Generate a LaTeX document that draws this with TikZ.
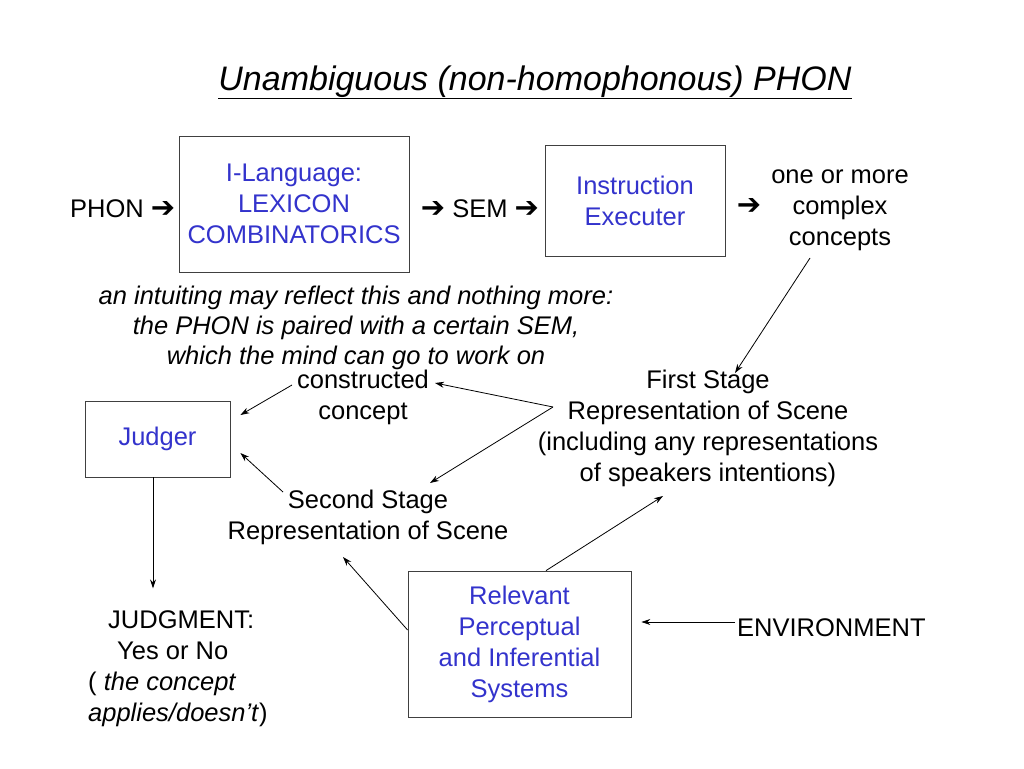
\documentclass[tikz,border=0pt]{standalone}
\usepackage{fontspec}
\setmainfont{Liberation Sans}
\newfontfamily\arrowfont{DejaVu Sans}[BoldFont={DejaVu Sans Bold}]
\usetikzlibrary{arrows.meta}
\definecolor{boxblue}{RGB}{51,51,204}
\newcommand{\thickarrow}{{\fontsize{29}{31}\selectfont\arrowfont\bfseries ➔}}
\tikzset{
  box/.style={draw=black!75, line width=0.8pt, text=boxblue, align=center, inner sep=0pt},
  label text/.style={align=center, inner sep=0pt},
  musing/.style={label text, font=\fontsize{25.5}{30}\selectfont\itshape},
  arr/.style={-{Stealth[length=9pt,width=6pt]}, line width=0.8pt},
}
\begin{document}
\begin{tikzpicture}[x=1pt, y=-1pt, font=\fontsize{25.5}{31}\selectfont]
  \useasboundingbox[fill=white] (0,0) rectangle (1024,768);
  % title
  \node[label text, anchor=base] (title) at (535,90)
    {\fontsize{34}{40}\selectfont\itshape\underline{Unambiguous (non-homophonous) PHON}};
  % boxes
  \node[box, minimum width=230pt, minimum height=136pt] (lexicon) at (294,204)
    {I-Language:\\LEXICON\\COMBINATORICS};
  \node[box, minimum width=180pt, minimum height=111pt] (executer) at (635,200.5)
    {Instruction\\Executer};
  \node[box, minimum width=145pt, minimum height=76pt] (judger) at (157.5,439) {Judger};
  \node[box, minimum width=223pt, minimum height=146pt] (systems) at (519.5,644)
    {Relevant\\Perceptual\\and Inferential\\Systems};
  % texts
  \node[label text, anchor=west] (phon) at (70,209) {PHON \thickarrow};
  \node[label text] (sem) at (480,209) {\thickarrow\ SEM \thickarrow};
  \node[label text] (outarrow) at (749,206) {\thickarrow};
  \node[label text] (concepts) at (840,210.5) {one or more\\complex\\concepts};
  \node[musing] (intuiting) at (356,328)
    {an intuiting may reflect this and nothing more:\\the PHON is paired with a certain SEM,\\which the mind can go to work on};
  \node[label text] (constructed) at (363,397.5) {constructed\\concept};
  \node[label text] (first) at (708,428.5)
    {First Stage\\Representation of Scene\\(including any representations\\of speakers intentions)};
  \node[label text] (second) at (368,517.5) {Second Stage\\Representation of Scene};
  \node[label text, anchor=west] (environment) at (737,628) {ENVIRONMENT};
  \node[label text, anchor=west, align=left] (judgment) at (88,668.5)
    {\hspace*{20pt}JUDGMENT:\\\hspace*{29pt}Yes or No\\( \textit{the concept}\\\textit{applies/doesn’t})};
  % connectors
  \coordinate (fork) at ([shift={(-155,-21.5)}]first.center);
  \draw[arr] ([shift={(-30,47.5)}]concepts.center) -- ([shift={(27,-55.5)}]first.center);
  \draw[arr] (fork) -- ([shift={(72,-14.5)}]constructed.center);
  \draw[arr] (fork) -- ([shift={(62,-34.5)}]second.center);
  \draw[arr] ([shift={(-71,-12.5)}]constructed.center) -- ([shift={(10,-24)}]judger.east);
  \draw[arr] ([shift={(-85,-25.5)}]second.center) -- ([shift={(10,14)}]judger.east);
  \draw[arr] ([xshift=-4.5pt]judger.south) -- ++(0,111);
  \draw[arr] ([shift={(26.5,0)}]systems.north) -- ([shift={(-45,67.5)}]first.center);
  \draw[arr] ([shift={(0,-14)}]systems.west) -- ([shift={(-25,39.5)}]second.center);
  \draw[arr] ([shift={(-2,-6)}]environment.west) -- ([shift={(10,-22)}]systems.east);
\end{tikzpicture}
\end{document}
